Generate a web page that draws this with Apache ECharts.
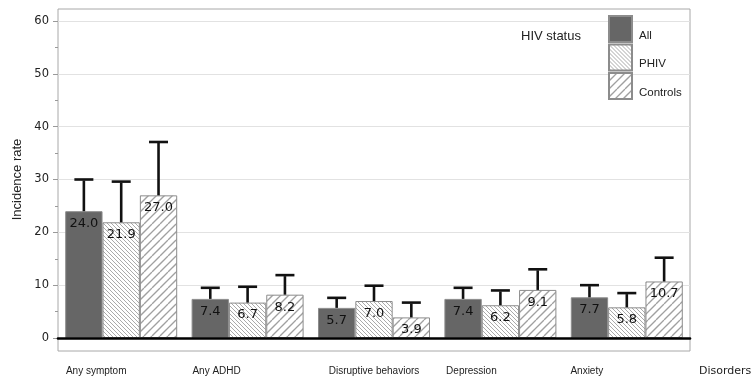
<!DOCTYPE html>
<html>
<head>
<meta charset="utf-8">
<script src="https://cdn.jsdelivr.net/npm/echarts@6/dist/echarts.min.js"></script>
<style>html,body{margin:0;padding:0;background:#fff}#c{width:755px;height:382px}</style>
</head>
<body>
<div id="c"></div>
<script>
const categories = ['Any symptom', 'Any ADHD', 'Disruptive behaviors', 'Depression', 'Anxiety'];
const seriesNames = ['All', 'PHIV', 'Controls'];
const allValues = [24.0, 7.4, 5.7, 7.4, 7.7];
const phivValues = [21.9, 6.7, 7.0, 6.2, 5.8];
const controlValues = [27.0, 8.2, 3.9, 9.1, 10.7];
const allUpper = [30.0, 9.5, 7.6, 9.5, 10.0];
const phivUpper = [29.6, 9.7, 9.9, 9.0, 8.5];
const controlUpper = [37.1, 11.9, 6.7, 13.0, 15.2];
const yTicks = [0, 10, 20, 30, 40, 50, 60];

const values = [allValues, phivValues, controlValues];
const uppers = [allUpper, phivUpper, controlUpper];

function hatch(size, spacing, dir, color, lw) {
  const c = document.createElement('canvas');
  c.width = size; c.height = size;
  const g = c.getContext('2d');
  g.fillStyle = '#fff'; g.fillRect(0, 0, size, size);
  g.strokeStyle = color; g.lineWidth = lw;
  for (let x = -size; x <= size * 2; x += spacing) {
    g.beginPath();
    if (dir > 0) { g.moveTo(x, size); g.lineTo(x + size, 0); }
    else { g.moveTo(x, 0); g.lineTo(x + size, size); }
    g.stroke();
  }
  return { image: c, repeat: 'repeat' };
}

const fills = ['#666666', hatch(16, 4, -1, '#a0a0a0', 0.9), hatch(16, 8, 1, '#a0a0a0', 1.3)];
const gapRatio = 0.114;
const labelShift = { 'Any symptom': 25, 'Any ADHD': 31, 'Disruptive behaviors': 0, 'Depression': 29, 'Anxiety': 40 };

const barSeries = seriesNames.map((n, i) => ({
  name: n, type: 'bar', xAxisIndex: 0, yAxisIndex: 0,
  data: values[i], barGap: '0%', barCategoryGap: (gapRatio * 100) + '%',
  itemStyle: { color: fills[i], borderColor: '#8c8c8c', borderWidth: 1 },
  label: {
    show: true, position: 'insideTop', distance: 6, color: '#111',
    fontFamily: 'DejaVu Sans', fontSize: 13,
    formatter: p => p.value.toFixed(1)
  },
  z: 2
}));

const errSeries = seriesNames.map((n, i) => ({
  name: 'err' + n, type: 'custom', xAxisIndex: 0, yAxisIndex: 0,
  data: values[i].map((v, k) => [k, v, uppers[i][k]]),
  renderItem: (params, api) => {
    const band = api.size([1, 0])[0];
    const bw = band * (1 - gapRatio) / 3;
    const c0 = api.coord([api.value(0), api.value(1)]);
    const c1 = api.coord([api.value(0), api.value(2)]);
    const x = c0[0] + (i - 1) * bw;
    const half = 9.5;
    const st = { stroke: '#111', lineWidth: 2.6 };
    return {
      type: 'group', children: [
        { type: 'line', shape: { x1: x, y1: c0[1], x2: x, y2: c1[1] + 1 }, style: st },
        { type: 'line', shape: { x1: x - half, y1: c1[1], x2: x + half, y2: c1[1] }, style: st }
      ]
    };
  },
  z: 3, silent: true
}));

const richMap = {};
categories.forEach((c, k) => {
  richMap['t' + k] = { padding: [0, 2 * labelShift[c], 0, 0], fontFamily: 'Liberation Sans', fontSize: 10, color: '#222' };
});

const option = {
  animation: false,
  backgroundColor: '#fff',
  title: [
    {
      text: 'HIV status', left: 521, top: 30, padding: 0,
      textStyle: { fontFamily: 'Liberation Sans', fontSize: 13, fontWeight: 'normal', color: '#222' }
    },
    {
      text: 'Disorders', left: 699, top: 366, padding: 0,
      textStyle: { fontFamily: 'DejaVu Sans', fontSize: 11, fontWeight: 'normal', color: '#222' }
    }
  ],
  legend: {
    data: seriesNames, orient: 'vertical', left: 608, top: 15, padding: 0,
    itemWidth: 23, itemHeight: 26, itemGap: 0.5, icon: 'rect', selectedMode: false,
    formatter: n => '{a|' + n + '}',
    textStyle: {
      fontFamily: 'Liberation Sans', fontSize: 11.5, color: '#222',
      rich: { a: { fontFamily: 'Liberation Sans', fontSize: 11.5, color: '#222', padding: [13, 0, 0, 2] } }
    }
  },
  grid: [
    { left: 58, right: 65, top: 21, bottom: 44, containLabel: false },
    { left: 58, right: 65, top: 9, bottom: 31, show: true, borderColor: '#a8a8a8', borderWidth: 1, backgroundColor: 'transparent', z: 0 }
  ],
  xAxis: [
    {
      type: 'category', gridIndex: 0, data: categories,
      axisLine: { show: true, lineStyle: { color: '#000', width: 2.6 } },
      axisTick: { show: false },
      axisLabel: {
        interval: 0, hideOverlap: false,
        margin: 28, color: '#222', fontFamily: 'Liberation Sans', fontSize: 10,
        formatter: v => '{t' + categories.indexOf(v) + '|' + v + '}',
        rich: richMap
      },
      z: 5
    },
    { type: 'category', gridIndex: 1, show: false, data: categories }
  ],
  yAxis: [
    {
      type: 'value', gridIndex: 0, min: yTicks[0], max: yTicks[yTicks.length - 1], interval: 10,
      name: 'Incidence rate', nameLocation: 'middle', nameGap: 33, nameRotate: 90,
      nameTextStyle: { fontFamily: 'Liberation Sans', fontSize: 13, color: '#222' },
      axisLine: { show: false },
      axisTick: { show: true, inside: false, length: 5, lineStyle: { color: '#999' } },
      minorTick: { show: true, splitNumber: 2, length: 3, lineStyle: { color: '#999' } },
      axisLabel: { margin: 9, color: '#222', fontFamily: 'DejaVu Sans', fontSize: 11.5 },
      splitLine: { show: true, lineStyle: { color: '#e2e2e2', width: 1 } }
    },
    { type: 'value', gridIndex: 1, show: false, min: 0, max: 1 }
  ],
  series: barSeries.concat(errSeries)
};

const chart = echarts.init(document.getElementById('c'), null, { renderer: 'canvas' });
chart.setOption(option);
</script>
</body>
</html>
